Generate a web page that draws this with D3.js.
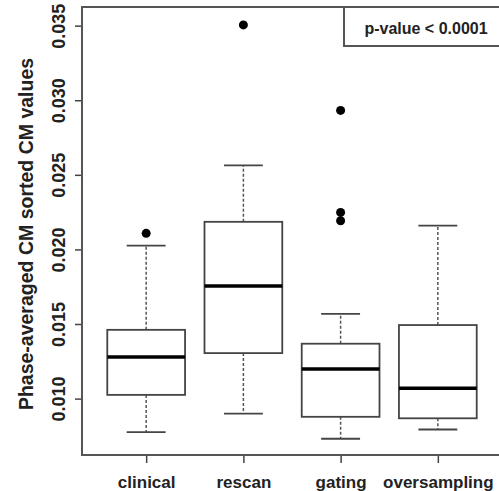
<!DOCTYPE html>
<html>
<head>
<meta charset="utf-8">
<script src="https://cdn.jsdelivr.net/npm/d3@7"></script>
<style>
  body { margin: 0; background: #fff; }
  svg { display: block; font-family: "Liberation Sans", Arial, sans-serif; font-weight: bold; }
</style>
</head>
<body>
<div id="chart"></div>
<script>
// values
var categories = ["clinical", "rescan", "gating", "oversampling"];
var lowerWhisker = [0.00775, 0.00900, 0.00731, 0.00793];
var q1 = [0.01025, 0.01305, 0.00878, 0.00868];
var medians = [0.01279, 0.01755, 0.01198, 0.01069];
var q3 = [0.01461, 0.02185, 0.01368, 0.01493];
var upperWhisker = [0.02026, 0.02564, 0.01568, 0.02159];
var outliers = [[0.02108], [0.03505], [0.02932, 0.02248, 0.02192], []];
var yTicks = [0.010, 0.015, 0.020, 0.025, 0.030, 0.035];
var legendText = "p-value < 0.0001";
var yTitle = "Phase-averaged CM sorted CM values";

var W = 499, H = 491;
var margin = { top: 7, right: -3, bottom: 36, left: 82 },
    width = W - margin.left - margin.right,
    height = H - margin.top - margin.bottom;

var svg = d3.select("#chart")
    .append("svg")
    .attr("width", W)
    .attr("height", H)
    .append("g")
    .attr("transform", "translate(" + margin.left + "," + margin.top + ")");

// R style limits: 0.5..n+0.5 plus 4%
var x = d3.scaleLinear()
    .domain([0.34, 4.66])
    .range([0, width]);

var y = d3.scaleLinear()
    .domain([0.00622, 0.03625])
    .range([height, 0]);

var boxW = (x(1.4) - x(0.6));
var capW = boxW / 2;

var boxes = categories.map(function(c, i) {
    return { name: c, pos: i + 1, lo: lowerWhisker[i], q1: q1[i], med: medians[i],
             q3: q3[i], hi: upperWhisker[i], out: outliers[i] };
});

var g = svg.selectAll(".box")
    .data(boxes)
    .enter().append("g")
    .attr("class", "box");

// whiskers (dashed)
g.append("line")
    .attr("x1", function(d) { return x(d.pos); })
    .attr("x2", function(d) { return x(d.pos); })
    .attr("y1", function(d) { return y(d.q3); })
    .attr("y2", function(d) { return y(d.hi); })
    .style("stroke", "#555").style("stroke-width", 1.5).style("stroke-dasharray", "3,2");

g.append("line")
    .attr("x1", function(d) { return x(d.pos); })
    .attr("x2", function(d) { return x(d.pos); })
    .attr("y1", function(d) { return y(d.q1); })
    .attr("y2", function(d) { return y(d.lo); })
    .style("stroke", "#555").style("stroke-width", 1.5).style("stroke-dasharray", "3,2");

// staples
g.append("line")
    .attr("x1", function(d) { return x(d.pos) - capW / 2; })
    .attr("x2", function(d) { return x(d.pos) + capW / 2; })
    .attr("y1", function(d) { return y(d.hi); })
    .attr("y2", function(d) { return y(d.hi); })
    .style("stroke", "#444").style("stroke-width", 1.8);

g.append("line")
    .attr("x1", function(d) { return x(d.pos) - capW / 2; })
    .attr("x2", function(d) { return x(d.pos) + capW / 2; })
    .attr("y1", function(d) { return y(d.lo); })
    .attr("y2", function(d) { return y(d.lo); })
    .style("stroke", "#444").style("stroke-width", 1.8);

// box
g.append("rect")
    .attr("x", function(d) { return x(d.pos) - boxW / 2; })
    .attr("y", function(d) { return y(d.q3); })
    .attr("width", boxW)
    .attr("height", function(d) { return y(d.q1) - y(d.q3); })
    .style("fill", "none").style("stroke", "#444").style("stroke-width", 1.8);

// median
g.append("line")
    .attr("x1", function(d) { return x(d.pos) - boxW / 2; })
    .attr("x2", function(d) { return x(d.pos) + boxW / 2; })
    .attr("y1", function(d) { return y(d.med); })
    .attr("y2", function(d) { return y(d.med); })
    .style("stroke", "#000").style("stroke-width", 3.5);

// outliers
g.selectAll(".out")
    .data(function(d) { return d.out.map(function(v) { return { pos: d.pos, v: v }; }); })
    .enter().append("circle")
    .attr("class", "out")
    .attr("cx", function(d) { return x(d.pos); })
    .attr("cy", function(d) { return y(d.v); })
    .attr("r", 4.5)
    .style("fill", "#000");

// y axis, labels parallel to the axis like R
var yAxis = svg.append("g")
    .call(d3.axisLeft(y).tickValues(yTicks).tickSize(7).tickFormat(d3.format(".3f")));
yAxis.select(".domain").remove();
yAxis.selectAll(".tick line").style("stroke", "#444").style("stroke-width", 1.5);
yAxis.selectAll(".tick text")
    .attr("x", null).attr("dy", null)
    .attr("transform", "translate(-17,0) rotate(-90)")
    .style("text-anchor", "middle")
    .style("font-size", "18px")
    .style("font-family", "'Liberation Sans', Arial, sans-serif")
    .style("font-weight", "bold")
    .style("fill", "#222");

// x axis
var xAxis = svg.append("g")
    .attr("transform", "translate(0," + height + ")")
    .call(d3.axisBottom(x).tickValues([1, 2, 3, 4]).tickSize(8).tickPadding(13)
        .tickFormat(function(d) { return categories[d - 1]; }));
xAxis.select(".domain").remove();
xAxis.selectAll(".tick line").style("stroke", "#444").style("stroke-width", 1.5);
xAxis.selectAll(".tick text")
    .style("font-size", "17px")
    .style("font-family", "'Liberation Sans', Arial, sans-serif")
    .style("font-weight", "bold")
    .style("fill", "#222");

// plot frame
svg.append("rect")
    .attr("x", 0).attr("y", 0)
    .attr("width", width).attr("height", height)
    .style("fill", "none").style("stroke", "#555").style("stroke-width", 2);

// legend box top right
var legX = 262, legH = 39;
svg.append("rect")
    .attr("x", legX).attr("y", 0)
    .attr("width", width - legX).attr("height", legH)
    .style("fill", "#fff").style("stroke", "#555").style("stroke-width", 2);
svg.append("text")
    .attr("x", legX + 82)
    .attr("y", 27)
    .style("text-anchor", "middle")
    .style("font-size", "16px")
    .style("fill", "#222")
    .text(legendText);

// y axis title
svg.append("text")
    .attr("transform", "translate(" + (33 - margin.left) + "," + 227 + ") rotate(-90)")
    .style("text-anchor", "middle")
    .style("font-size", "19.5px")
    .style("fill", "#222")
    .text(yTitle);
</script>
</body>
</html>
